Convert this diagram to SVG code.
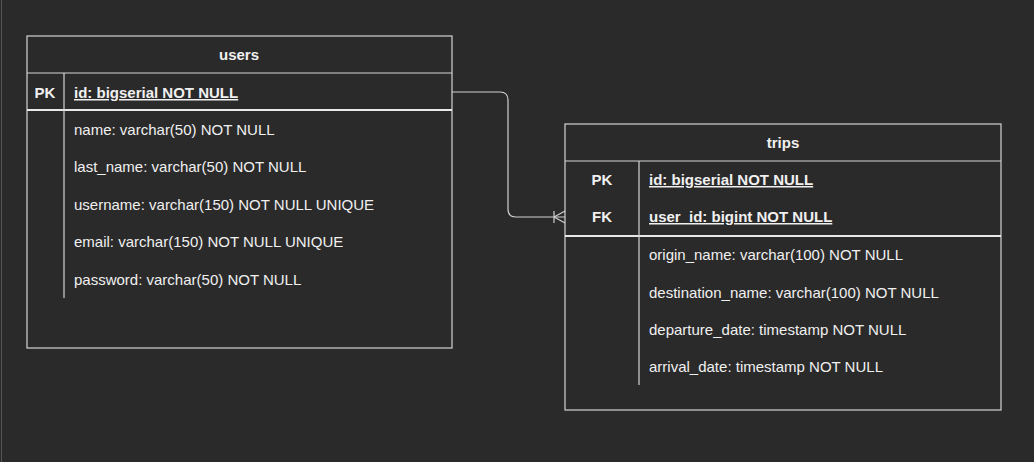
<svg xmlns="http://www.w3.org/2000/svg" width="1034" height="462" viewBox="0 0 1034 462">
<style>
text{font-family:"Liberation Sans",Arial,sans-serif;font-size:15px;fill:#f0f0f0}
.b{font-weight:bold}
.u{text-decoration:underline}
.c{text-anchor:middle}
.box{fill:#2a2a2a;stroke:#d4d4d4;stroke-width:1.2}
.ln{stroke:#d4d4d4;stroke-width:1.2;fill:none}
.sep{stroke:#e8e8e8;stroke-width:1.8}
.conn{stroke:#d0d0d0;stroke-width:1.2;fill:none}
</style>
<rect width="1034" height="462" fill="#2a2a2a"/>
<line x1="1.5" y1="0" x2="1.5" y2="462" stroke="#555" stroke-width="1"/>
<g id="users">
<rect class="box" x="27" y="36" width="425" height="312"/>
<line class="ln" x1="27" y1="73" x2="452" y2="73"/>
<line class="sep" x1="27" y1="110" x2="452" y2="110"/>
<line class="ln" x1="64" y1="73" x2="64" y2="298"/>
<text class="b c" x="239" y="60">users</text>
<text class="b c" x="45" y="98">PK</text>
<text class="b u" x="74" y="98">id: bigserial NOT NULL</text>
<text x="74" y="135">name: varchar(50) NOT NULL</text>
<text x="74" y="172">last_name: varchar(50) NOT NULL</text>
<text x="74" y="210">username: varchar(150) NOT NULL UNIQUE</text>
<text x="74" y="247">email: varchar(150) NOT NULL UNIQUE</text>
<text x="74" y="285">password: varchar(50) NOT NULL</text>
</g>
<g id="trips">
<rect class="box" x="565" y="124" width="436" height="286"/>
<line class="ln" x1="565" y1="161" x2="1001" y2="161"/>
<line class="sep" x1="565" y1="236" x2="1001" y2="236"/>
<line class="ln" x1="639" y1="161" x2="639" y2="385"/>
<text class="b c" x="783" y="148">trips</text>
<text class="b c" x="602" y="185">PK</text>
<text class="b u" x="649" y="185">id: bigserial NOT NULL</text>
<text class="b c" x="602" y="222">FK</text>
<text class="b u" x="649" y="222">user_id: bigint NOT NULL</text>
<text x="649" y="260">origin_name: varchar(100) NOT NULL</text>
<text x="649" y="298">destination_name: varchar(100) NOT NULL</text>
<text x="649" y="335">departure_date: timestamp NOT NULL</text>
<text x="649" y="372">arrival_date: timestamp NOT NULL</text>
</g>
<g id="connectors">
<path class="conn" d="M452 92 H500 Q508 92 508 100 V209 Q508 217 516 217 H565"/>
<path class="conn" d="M554 211 V223 M554 217 L565 211 M554 217 L565 223"/>
</g>
</svg>
